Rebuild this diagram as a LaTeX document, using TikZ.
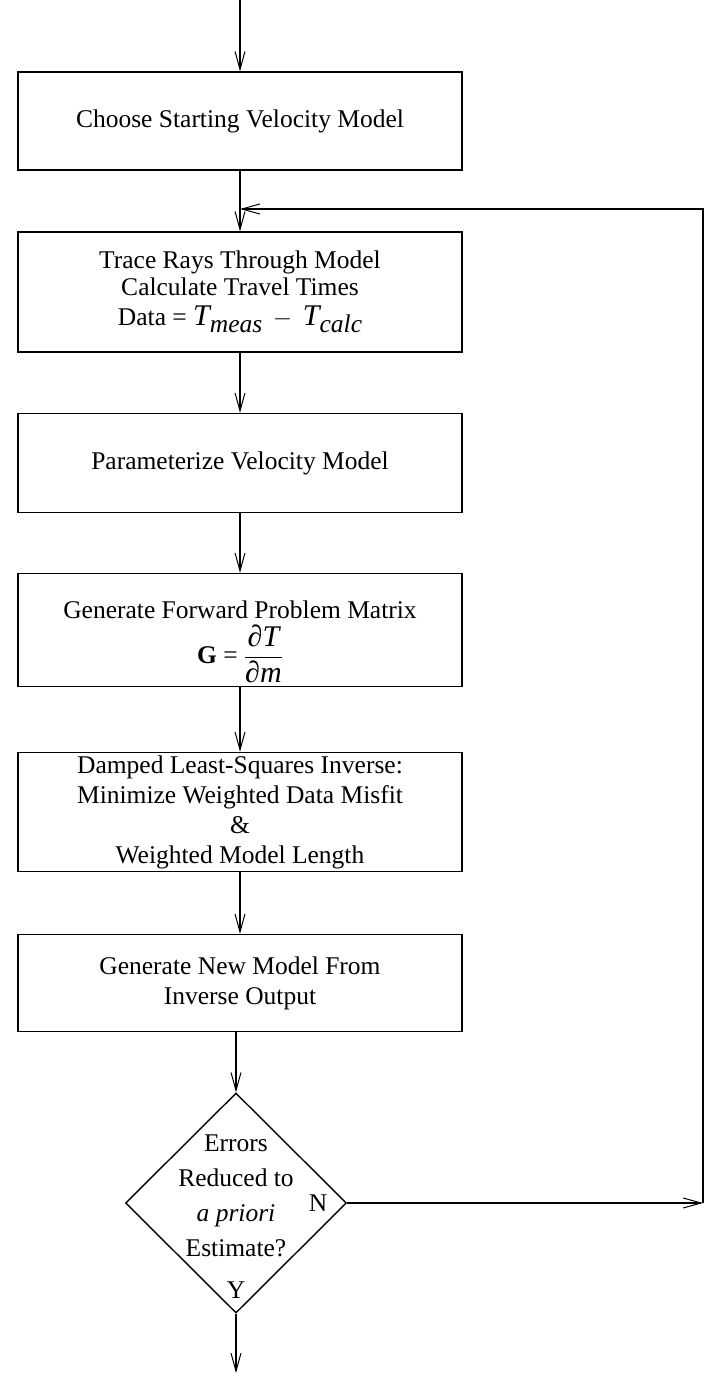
\documentclass[tikz,border=0pt]{standalone}
\usepackage{amsmath}
\usepackage{fontspec}
\setmainfont{Liberation Serif}
\usetikzlibrary{arrows.meta,shapes.geometric}
\begin{document}
\begin{tikzpicture}[x=1pt,y=-1pt,
  box/.style={draw,line width=1.4pt,minimum width=444pt,inner sep=0pt,align=center,font=\fontsize{25.5}{30}\selectfont},
  conn/.style={line width=1.2pt,-{Straight Barb[length=18pt,width=10pt,line width=1pt]}},
  lbl/.style={font=\fontsize{25.5}{35}\selectfont,inner sep=0pt,align=center}]
\useasboundingbox (0,0) rectangle (705,1373);
\coordinate (top) at (240,0);
\node[box,minimum height=98pt] (b1) at (240,121) {Choose Starting Velocity Model};
\node[box,minimum height=120pt] (b2) at (240,292) {Trace Rays Through Model\\[-3pt]Calculate Travel Times\\Data = {\fontsize{30}{30}\selectfont\itshape T}\raisebox{-7pt}{\itshape meas}\, {\fontsize{30}{30}\selectfont$-$}\, {\fontsize{30}{30}\selectfont\itshape T}\raisebox{-7pt}{\itshape calc}};
\node[box,minimum height=99pt] (b3) at (240,463) {Parameterize Velocity Model};
\node[box,minimum height=113pt] (b4) at (240,630) {};
\node[lbl,anchor=base] (b4a) at (240,618) {Generate Forward Problem Matrix};
\node[lbl,anchor=north] (b4b) at (240,625) {{\bfseries G} = $\dfrac{\mbox{\fontsize{30}{30}\selectfont\itshape ∂T}}{\mbox{\fontsize{30}{30}\selectfont\itshape ∂m}}$};
\node[box,minimum height=119pt] (b5) at (240,812) {Damped Least-Squares Inverse:\\Minimize Weighted Data Misfit\\\&\\Weighted Model Length};
\node[box,minimum height=97pt] (b6) at (240,983) {Generate New Model From\\Inverse Output};
\node[draw,diamond,line width=1.4pt,minimum width=221pt,minimum height=220pt,inner sep=0pt] (d) at (236,1203) {};
\node[lbl] (dt) at (236,1196) {Errors\\Reduced to\\\textit{a priori}\\Estimate?};
\node[lbl] (y) at (236,1290) {Y};
\node[lbl] (n) at (318,1203) {N};
\coordinate (bot) at (236,1373);
\coordinate (rc) at (703,1203);

\draw[conn] (top) -- (b1.north);
\draw[conn] (b1.south) -- (b2.north);
\draw[conn] (b2.south) -- (b3.north);
\draw[conn] (b3.south) -- (b4.north);
\draw[conn] (b4.south) -- (b5.north);
\draw[conn] (b5.south) -- (b6.north);
\draw[conn] (d.north |- b6.south) -- (d.north);
\draw[conn] (d.south) -- (bot);
\draw[conn] (d.east) -- (rc);
\draw[conn] (rc) |- (240,209);
\end{tikzpicture}
\end{document}
